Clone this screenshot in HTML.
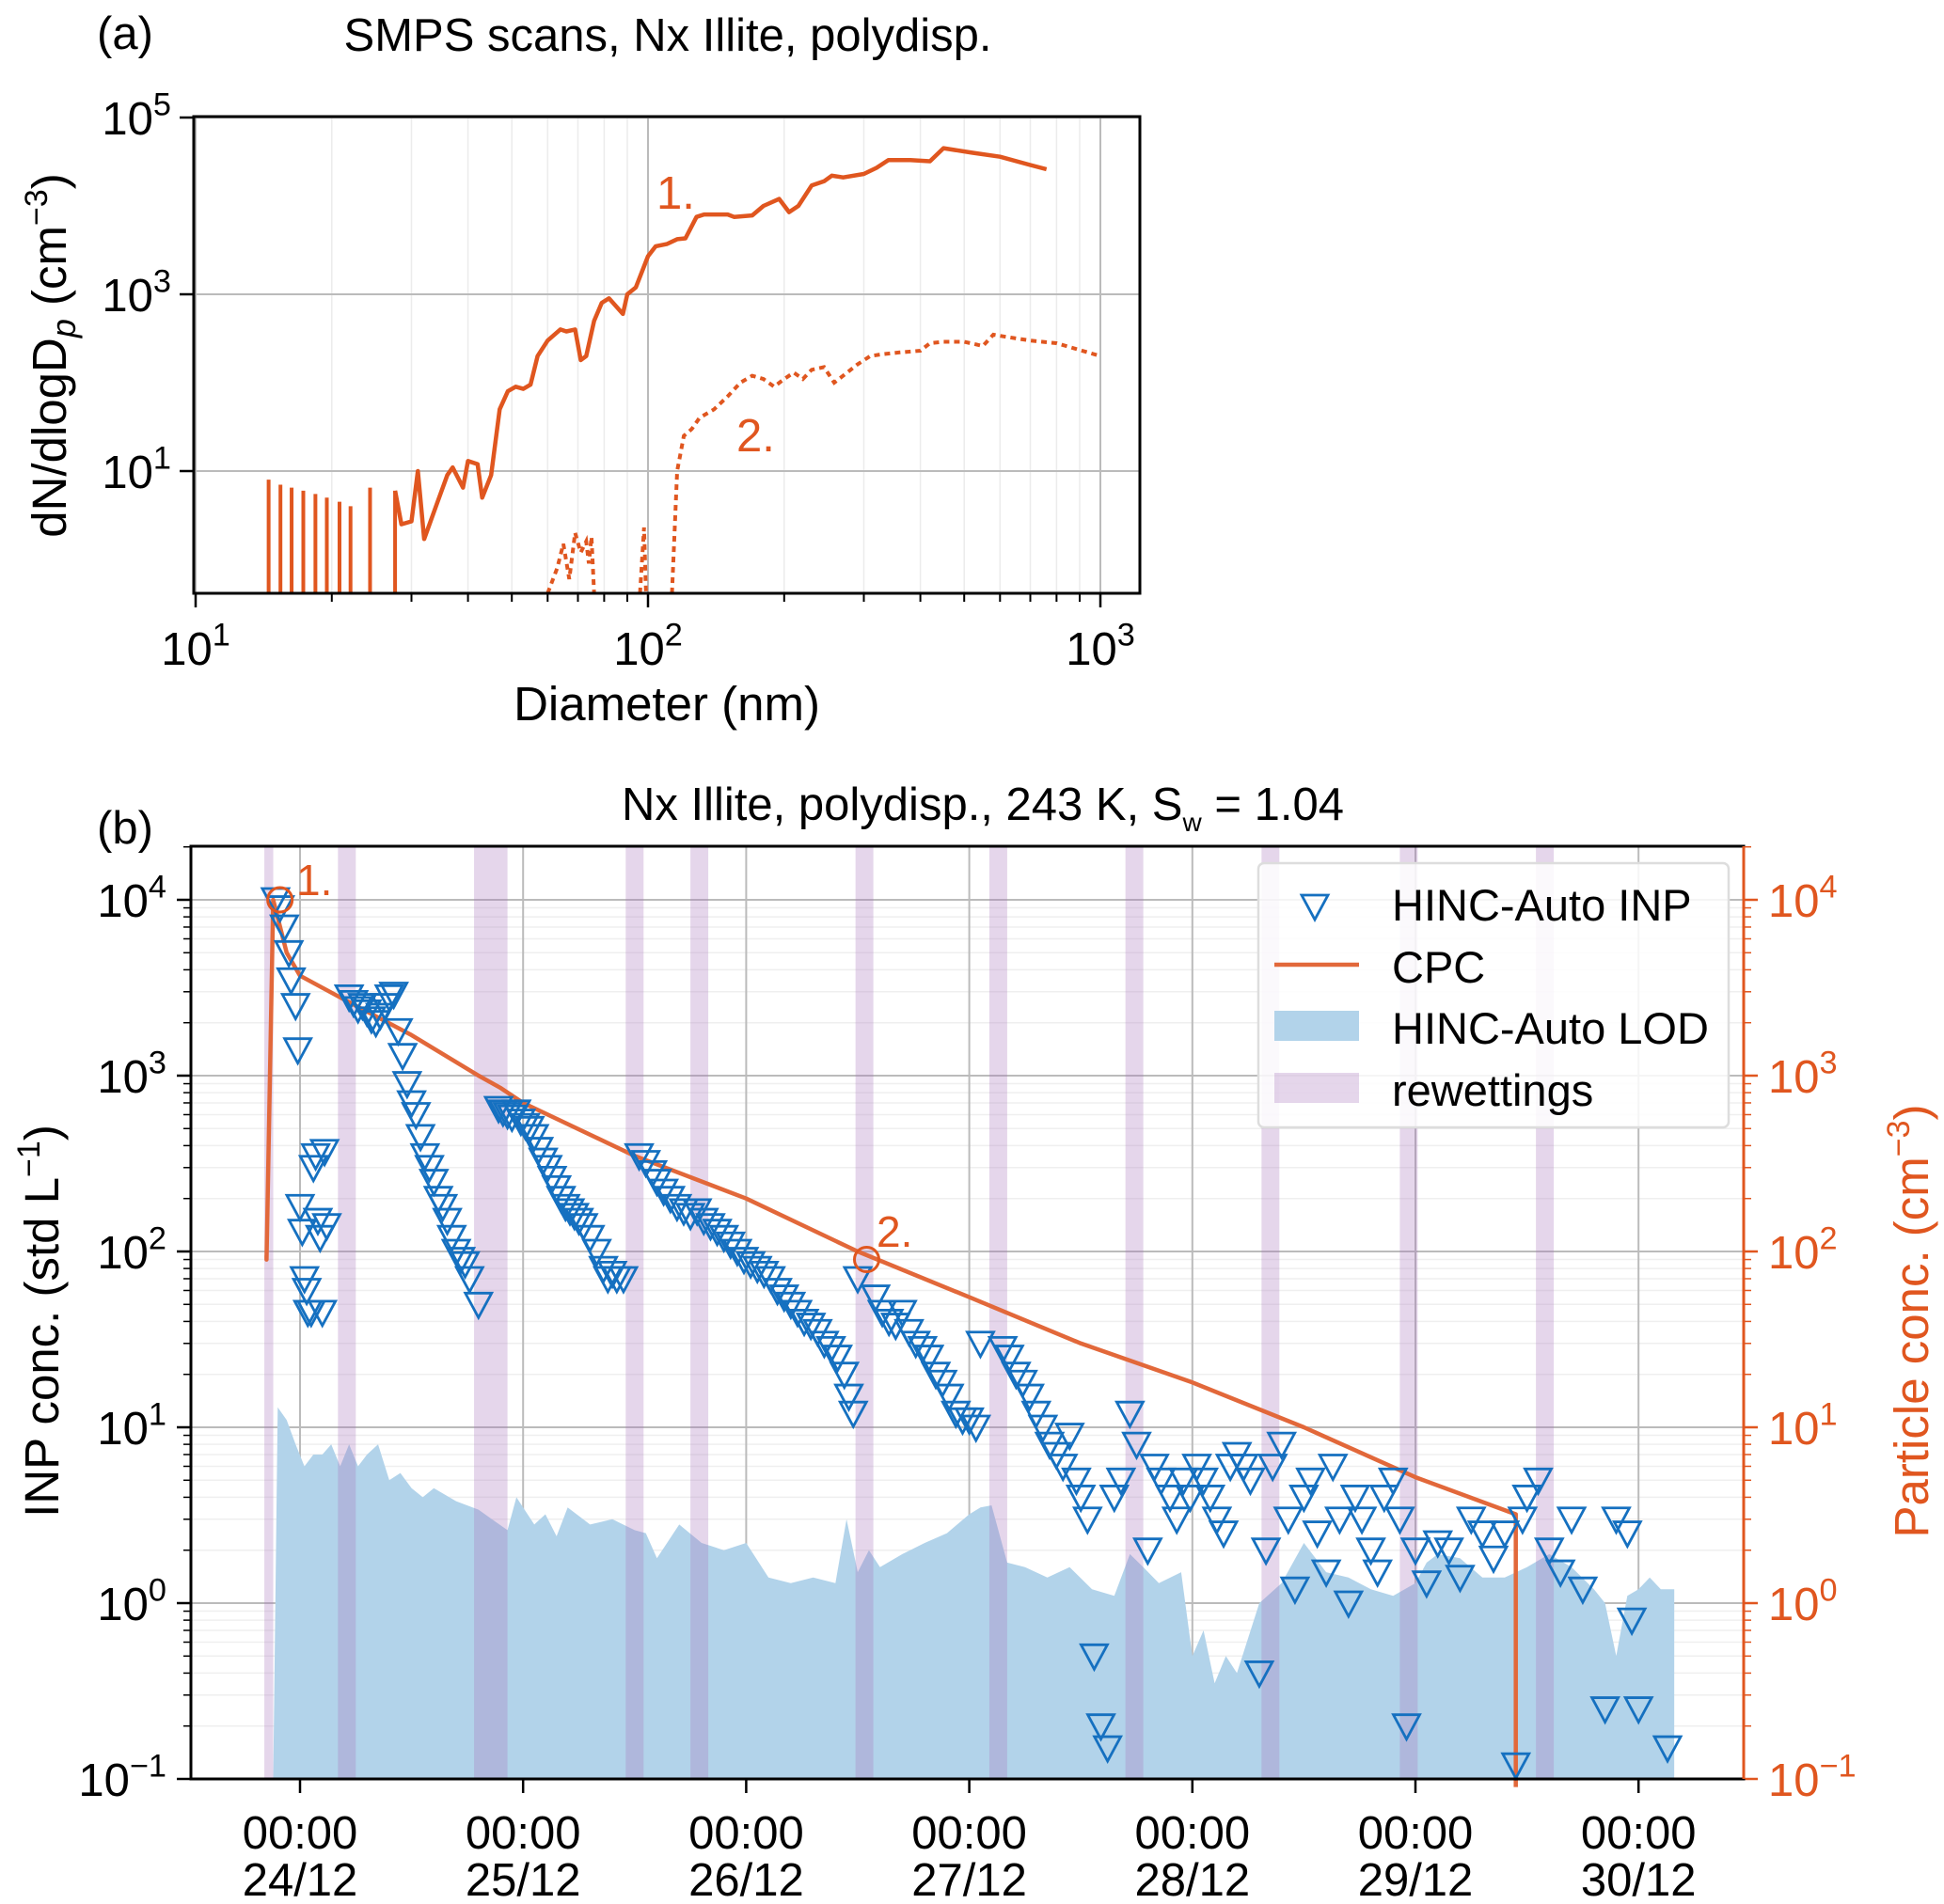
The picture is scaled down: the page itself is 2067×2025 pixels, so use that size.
<!DOCTYPE html>
<html><head><meta charset="utf-8"><style>
html,body{margin:0;padding:0;background:#fff}
svg{display:block;font-family:"Liberation Sans",sans-serif}
</style></head><body>
<svg id="fig" width="2067" height="2025" viewBox="0 0 2067 2025" xmlns="http://www.w3.org/2000/svg">
<g id="pa"></g>
<g id="pb"></g>
</svg>
<script>
// ---- Panel (a) data ----
const aDiam1=[27.6,28.5,30,31,32,34,36,37,39,40,42,43,45,47,49,51,53,55,57,60,64,66,69,71,73,76,79,82,88,90,94,100,104,110,116,121,128,133,150,155,170,180,195,205,215,230,245,255,270,300,320,340,380,420,450,520,600,700,760];
const aVal1=[6,2.5,2.7,10,1.7,4,9,11,6.5,13,12,5,9,50,80,90,85,95,200,300,400,380,400,180,200,500,800,900,600,1000,1200,2700,3500,3700,4200,4300,7500,8000,8000,7500,7800,10000,12000,8500,10000,17000,19000,22000,21000,23000,27000,33000,33000,32000,45000,40000,36000,29000,26000];
const aSpikeD=[14.5,15.4,16.3,17.3,18.4,19.5,20.8,22,24.3,27.6];
const aSpikeV=[8,7,6.5,6,5.5,5,4.5,4,6.5,6];
const aDiam2a=[60,63,65,67,69,71,73,74,75,76];
const aVal2a=[0.4,0.8,1.5,0.6,2,1.2,1.6,0.9,1.8,0.3];
const aDiam2b=[96,98,99];
const aVal2b=[0.3,2.3,0.3];
const aDiam2c=[113,116,120,125,130,140,150,160,170,180,190,200,210,220,230,245,258,270,290,310,330,360,400,420,450,500,550,580,620,700,800,1000];
const aVal2c=[0.3,10,25,30,40,50,70,100,120,110,90,110,130,110,140,150,100,120,160,200,210,220,230,280,290,290,260,350,330,300,280,200];
const aXTicks=["10","10","10"],aXExp=["1","2","3"];
const aYTicks=["10","10","10"],aYExp=["5","3","1"];

// ---- Panel (b) data (time in days relative to 24/12 00:00) ----
const dayLabels=["24/12","25/12","26/12","27/12","28/12","29/12","30/12"];
const rewetStart=[-0.16,0.17,0.78,1.46,1.75,2.49,3.09,3.70,4.31,4.93,5.54];
const rewetEnd=[-0.12,0.25,0.93,1.54,1.83,2.57,3.17,3.78,4.39,5.01,5.62];
const cpcT=[-0.15,-0.15,-0.12,-0.06,0,0.2,0.5,0.8,0.9,1.0,1.5,2.0,2.5,3.0,3.5,4.0,4.5,5.0,5.45,5.45];
const cpcV=[95,90,10000,5000,3700,2700,1700,1000,850,700,350,200,100,55,30,18,10,5.2,3.2,0.09];
const lodT=[-0.12,-0.1,-0.06,-0.02,0.02,0.06,0.1,0.14,0.18,0.22,0.26,0.3,0.35,0.4,0.45,0.5,0.55,0.6,0.7,0.8,0.86,0.93,0.97,1.0,1.05,1.1,1.15,1.2,1.3,1.4,1.5,1.55,1.6,1.7,1.8,1.9,2.0,2.1,2.2,2.3,2.4,2.45,2.5,2.55,2.6,2.7,2.8,2.9,3.0,3.05,3.1,3.17,3.25,3.35,3.45,3.55,3.65,3.72,3.78,3.85,3.95,4.0,4.05,4.1,4.15,4.2,4.3,4.4,4.5,4.6,4.7,4.8,4.9,5.0,5.05,5.1,5.2,5.3,5.4,5.5,5.6,5.7,5.8,5.85,5.9,5.95,6.0,6.05,6.1,6.16];
const lodV=[0.1,13,11,8,6,7,7,8,6,8,6,7,8,5,5.5,4.5,4,4.5,3.8,3.4,3,2.6,4,3.5,2.8,3.2,2.4,3.5,2.8,3,2.6,2.5,1.8,2.8,2.2,2,2.2,1.4,1.3,1.4,1.3,3,1.5,2,1.6,1.9,2.2,2.5,3.2,3.5,3.6,1.7,1.6,1.4,1.6,1.2,1.1,1.9,1.6,1.3,1.5,0.5,0.7,0.35,0.5,0.4,1.0,1.3,2.2,1.5,1.4,1.2,1.1,1.3,1.7,1.9,1.8,1.4,1.4,1.6,1.9,1.6,1.2,1.0,0.5,1.1,1.2,1.4,1.2,1.2];
const inpT=[-0.11,-0.09,-0.07,-0.05,-0.04,-0.02,-0.01,0.0,0.01,0.02,0.03,0.035,0.06,0.05,0.07,0.08,0.09,0.11,0.12,0.1,
0.22,0.24,0.26,0.28,0.3,0.32,0.34,0.36,0.38,0.4,0.42,0.44,0.46,0.48,0.5,0.52,0.54,0.56,0.58,0.6,0.62,0.64,0.66,0.68,0.7,0.72,0.74,0.76,0.8,
0.89,0.91,0.93,0.95,0.97,0.99,1.01,1.03,1.05,1.07,1.09,1.11,1.13,1.15,1.17,1.19,1.21,1.23,1.25,1.27,1.3,1.33,1.36,1.38,1.4,1.42,1.45,
1.52,1.55,1.58,1.6,1.63,1.66,1.69,1.72,1.75,1.78,1.81,1.84,1.87,1.9,1.93,1.96,1.99,2.02,2.05,2.08,2.11,2.14,2.17,2.2,2.23,2.26,2.29,2.32,2.35,2.38,2.41,2.44,2.46,2.48,2.5,
2.58,2.61,2.64,2.67,2.7,2.73,2.76,2.79,2.82,2.85,2.88,2.91,2.94,2.97,3.0,3.03,3.05,
3.15,3.18,3.21,3.24,3.27,3.3,3.33,3.36,3.39,3.42,3.45,3.48,3.5,3.53,3.56,3.59,3.62,3.65,3.68,3.72,3.75,3.8,3.83,3.86,3.9,3.93,3.96,3.99,4.02,4.05,4.08,4.11,4.14,4.17,4.2,4.23,4.26,4.3,4.33,4.36,4.4,4.43,4.46,4.5,4.53,4.56,4.6,4.63,4.66,4.7,4.73,4.76,4.8,4.83,4.86,4.9,4.93,4.96,5.0,5.05,5.1,5.15,5.2,5.25,5.3,5.35,5.4,5.45,5.48,
5.5,5.55,5.6,5.65,5.7,5.75,5.85,5.9,5.95,5.97,6.0,6.13,6.16];
const inpV=[10000,9000,7000,5000,3500,2500,1400,180,130,70,60,45,300,45,350,150,120,370,140,45,
2800,2600,2400,2500,2300,2100,2000,2200,2500,2800,2900,1800,1300,900,700,600,450,350,300,250,200,180,150,120,100,90,85,70,50,
650,620,600,580,620,550,520,500,450,380,330,300,260,230,200,180,170,160,150,140,120,100,80,70,75,70,70,
350,320,280,250,220,200,180,170,160,170,150,140,130,120,110,100,90,85,80,75,70,60,55,50,45,40,38,35,30,28,25,20,15,12,
70,55,45,40,38,45,35,30,28,25,20,18,15,12,11,11,10,
30,28,25,20,18,15,12,10,8,7,6,9,5,4,3,0.5,0.2,0.15,4,5,12,8,2,6,5,4,3,5,4,6,5,4,3,2.5,6,7,6,5,0.4,2,6,8,3,1.2,4,5,2.5,1.5,6,3,1,4,3,2,1.5,4,5,3,0.2,2,1.3,2.2,2,1.4,3,2.5,1.8,2.5,0.12,
3,4,5,2,1.5,3,1.2,0.25,3,2.5,0.8,0.25,0.15];
const bYExp=["4","3","2","1","0","−1"];

const NS="http://www.w3.org/2000/svg";
function mk(parent,tag,attrs,name,inter){const e=document.createElementNS(NS,tag);for(const k in attrs)e.setAttribute(k,attrs[k]);


parent.appendChild(e);return e;}
function supText(parent,x,y,base,exp,size,anchor,fill,name){
 const t=mk(parent,'text',{x:x,y:y,'font-size':size,'text-anchor':anchor,fill:fill||'#000'},name,false);
 const a=document.createElementNS(NS,'tspan');a.textContent=base;t.appendChild(a);
 const b=document.createElementNS(NS,'tspan');b.setAttribute('dy',-size*0.42);b.setAttribute('font-size',size*0.7);b.textContent=exp;t.appendChild(b);
 return t;}
const L10=Math.log10;
const FS=49;

// ===== Panel A =====
const pa=document.getElementById('pa');
const aL=206,aR=1212,aT=124,aB=631;
const ax=d=>208+(L10(d)-1)*481;
const ay=v=>{let y=313-(L10(v)-3)*94;return Math.min(y,aB);};
for(let dec=1;dec<=3;dec++)for(let m=2;m<=9;m++){const d=m*Math.pow(10,dec);const x=ax(d);if(x>aR)continue;
 mk(pa,'line',{x1:x,x2:x,y1:aT,y2:aB,stroke:'#ececec','stroke-width':1.5},'minor-gridline-x',false);
 mk(pa,'line',{x1:x,x2:x,y1:aB,y2:aB+9,stroke:'#000','stroke-width':2},'minor-tick-x',false);}
[10,100,1000].forEach((d,i)=>{const x=ax(d);mk(pa,'line',{x1:x,x2:x,y1:aT,y2:aB,stroke:'#bbb','stroke-width':2},'gridline-x',false);
 mk(pa,'line',{x1:x,x2:x,y1:aB,y2:aB+15,stroke:'#000','stroke-width':2.5},'tick-x',false);
 supText(pa,x,aB+76,aXTicks[i],aXExp[i],FS,'middle','#000','x-tick-label');});
[1e5,1e3,1e1].forEach((v,i)=>{const y=ay(v);mk(pa,'line',{x1:aL,x2:aR,y1:y,y2:y,stroke:'#bbb','stroke-width':2},'gridline-y',false);
 mk(pa,'line',{x1:aL-15,x2:aL,y1:y,y2:y,stroke:'#000','stroke-width':2.5},'tick-y',false);
 supText(pa,aL-24,y+18,aYTicks[i],aYExp[i],FS,'end','#000','y-tick-label');});
const oc='#e0561f';
aSpikeD.forEach((d,i)=>mk(pa,'line',{x1:ax(d),x2:ax(d),y1:aB,y2:ay(aSpikeV[i]),stroke:oc,'stroke-width':4},'scan1-spike',false));
function poly(par,xs,vs,fx,fy,st,name){const p=xs.map((d,i)=>fx(d).toFixed(1)+','+fy(vs[i]).toFixed(1)).join(' ');
 const e=mk(par,'polyline',Object.assign({points:p,fill:'none'},st),name,false);return e;}
poly(pa,aDiam1,aVal1,ax,ay,{stroke:oc,'stroke-width':4.5,'stroke-linejoin':'round'},'scan1-line');
const ds={stroke:oc,'stroke-width':4,'stroke-dasharray':'6,5'};
poly(pa,aDiam2a,aVal2a,ax,ay,ds,'scan2-line');poly(pa,aDiam2b,aVal2b,ax,ay,ds,'scan2-line');poly(pa,aDiam2c,aVal2c,ax,ay,ds,'scan2-line');
mk(pa,'rect',{x:aL,y:aT,width:aR-aL,height:aB-aT,fill:'none',stroke:'#000','stroke-width':3},'plot-frame-a',false);
let t;
t=mk(pa,'text',{x:698,y:222,'font-size':FS,fill:oc},'annotation-1',false);t.textContent='1.';
t=mk(pa,'text',{x:783,y:480,'font-size':FS,fill:oc},'annotation-2',false);t.textContent='2.';
t=mk(pa,'text',{x:103,y:52,'font-size':FS},'panel-label-a',false);t.textContent='(a)';
t=mk(pa,'text',{x:710,y:54,'font-size':FS,'text-anchor':'middle'},'title-a',false);t.textContent='SMPS scans, Nx Illite, polydisp.';
t=mk(pa,'text',{x:709,y:766,'font-size':FS+2,'text-anchor':'middle'},'x-axis-title-a',false);t.textContent='Diameter (nm)';
t=mk(pa,'text',{x:0,y:0,'font-size':FS+2,'text-anchor':'middle',transform:'translate(70,378) rotate(-90)'},'y-axis-title-a',false);
t.innerHTML='dN/dlogD<tspan font-style="italic" font-size="36" dy="10">p</tspan><tspan dy="-10"> (cm</tspan><tspan font-size="34" dy="-20">−3</tspan><tspan dy="20">)</tspan>';

// ===== Panel B =====
const pb=document.getElementById('pb');
const bL=203,bR=1854,bT=900,bB=1892;
const bx=d=>319+d*237.2;
const by=v=>{let y=957-(L10(v)-4)*187;return Math.max(Math.min(y,bB),bT);};
for(let e=-1;e<=4;e++)for(let m=2;m<=9;m++){const v=m*Math.pow(10,e);const y=by(v);if(y<=bT)continue;
 mk(pb,'line',{x1:bL,x2:bR,y1:y,y2:y,stroke:'#efefef','stroke-width':1.5},'minor-gridline-y',false);
 mk(pb,'line',{x1:bL-8,x2:bL,y1:y,y2:y,stroke:'#000','stroke-width':1.5},'minor-tick-y-left',false);
 mk(pb,'line',{x1:bR,x2:bR+8,y1:y,y2:y,stroke:'#e0561f','stroke-width':1.5},'minor-tick-y-right',false);}
dayLabels.forEach((lab,i)=>{const x=bx(i);mk(pb,'line',{x1:x,x2:x,y1:bT,y2:bB,stroke:'#bbb','stroke-width':2},'gridline-x',false);
 mk(pb,'line',{x1:x,x2:x,y1:bB,y2:bB+15,stroke:'#000','stroke-width':2.5},'tick-x',false);
 let a=mk(pb,'text',{x:x,y:1966,'font-size':FS,'text-anchor':'middle'},'x-tick-time',false);a.textContent='00:00';
 a=mk(pb,'text',{x:x,y:2016,'font-size':FS,'text-anchor':'middle'},'x-tick-date',false);a.textContent=lab;});
bYExp.forEach((ex,i)=>{const v=Math.pow(10,4-i);const y=by(v);
 mk(pb,'line',{x1:bL,x2:bR,y1:y,y2:y,stroke:'#bbb','stroke-width':2},'gridline-y',false);
 mk(pb,'line',{x1:bL-15,x2:bL,y1:y,y2:y,stroke:'#000','stroke-width':2.5},'tick-y-left',false);
 mk(pb,'line',{x1:bR,x2:bR+15,y1:y,y2:y,stroke:'#e0561f','stroke-width':2.5},'tick-y-right',false);
 supText(pb,bL-26,y+18,'10',ex,FS,'end','#000','y-tick-label-left');
 supText(pb,bR+26,y+18,'10',ex,FS,'start','#e0561f','y-tick-label-right');});
let pts=lodT.map((d,i)=>bx(d).toFixed(1)+','+by(lodV[i]).toFixed(1));
mk(pb,'polygon',{points:bx(lodT[0])+','+bB+' '+pts.join(' ')+' '+bx(lodT[lodT.length-1])+','+bB,fill:'#b2d3ea'},'lod-area',false);
rewetStart.forEach((s,i)=>mk(pb,'rect',{x:bx(s),y:bT,width:bx(rewetEnd[i])-bx(s),height:bB-bT,fill:'rgba(170,120,190,0.3)'},'rewetting-band',false));
poly(pb,cpcT,cpcV,bx,v=>957-(L10(v)-4)*187,{stroke:'#e2683a','stroke-width':4.5,'stroke-linejoin':'round'},'cpc-line');
inpT.forEach((d,i)=>{const x=bx(d),y=by(inpV[i]);
 mk(pb,'polygon',{points:(x-14)+','+(y-12)+' '+(x+14)+','+(y-12)+' '+x+','+(y+14),fill:'none',stroke:'#1570c0','stroke-width':2.8},'inp-marker',false);});
mk(pb,'circle',{cx:bx(-0.09),cy:by(10000),r:13,fill:'none',stroke:'#e0561f','stroke-width':3},'marker-scan-1',false);
mk(pb,'circle',{cx:bx(2.54),cy:by(90),r:13,fill:'none',stroke:'#e0561f','stroke-width':3},'marker-scan-2',false);
t=mk(pb,'text',{x:315,y:952,'font-size':FS-3,fill:'#e0561f'},'annotation-1',false);t.textContent='1.';
t=mk(pb,'text',{x:932,y:1326,'font-size':FS-3,fill:'#e0561f'},'annotation-2',false);t.textContent='2.';
mk(pb,'rect',{x:bL,y:bT,width:bR-bL,height:bB-bT,fill:'none',stroke:'#000','stroke-width':3},'plot-frame-b',false);
mk(pb,'line',{x1:bR,x2:bR,y1:bT,y2:bB,stroke:'#e0561f','stroke-width':3},'right-axis-spine',false);
const lg=mk(pb,'g',{},'legend',false);
mk(lg,'rect',{x:1338,y:918,width:500,height:281,rx:6,fill:'rgba(255,255,255,0.85)',stroke:'#ddd','stroke-width':2.5},'legend-box',false);
mk(lg,'polygon',{points:'1384,952 1412,952 1398,978',fill:'none',stroke:'#1570c0','stroke-width':2.8},'legend-inp-icon',false);
mk(lg,'line',{x1:1355,x2:1445,y1:1026,y2:1026,stroke:'#e2683a','stroke-width':4.5},'legend-cpc-icon',false);
mk(lg,'rect',{x:1355,y:1075,width:90,height:32,fill:'#b2d3ea'},'legend-lod-icon',false);
mk(lg,'rect',{x:1355,y:1141,width:90,height:32,fill:'rgba(170,120,190,0.3)'},'legend-rewetting-icon',false);
[['HINC-Auto INP',979],['CPC',1045],['HINC-Auto LOD',1110],['rewettings',1176]].forEach(a=>{t=mk(lg,'text',{x:1480,y:a[1],'font-size':47},'legend-label',false);t.textContent=a[0];});
t=mk(pb,'text',{x:103,y:897,'font-size':FS},'panel-label-b',false);t.textContent='(b)';
t=mk(pb,'text',{x:1045,y:872,'font-size':FS,'text-anchor':'middle'},'title-b',false);
t.innerHTML='Nx Illite, polydisp., 243 K, S<tspan font-size="28" dy="12">w</tspan><tspan dy="-12"> = 1.04</tspan>';
t=mk(pb,'text',{x:0,y:0,'font-size':FS+2,'text-anchor':'middle',transform:'translate(62,1405) rotate(-90)'},'y-axis-title-left',false);
t.innerHTML='INP conc. (std L<tspan font-size="34" dy="-20">−1</tspan><tspan dy="20">)</tspan>';
t=mk(pb,'text',{x:0,y:0,'font-size':FS+2,'text-anchor':'middle',fill:'#e0561f',transform:'translate(2050,1405) rotate(-90)'},'y-axis-title-right',false);
t.innerHTML='Particle conc. (cm<tspan font-size="34" dy="-20">−3</tspan><tspan dy="20">)</tspan>';
</script>
</body></html>
